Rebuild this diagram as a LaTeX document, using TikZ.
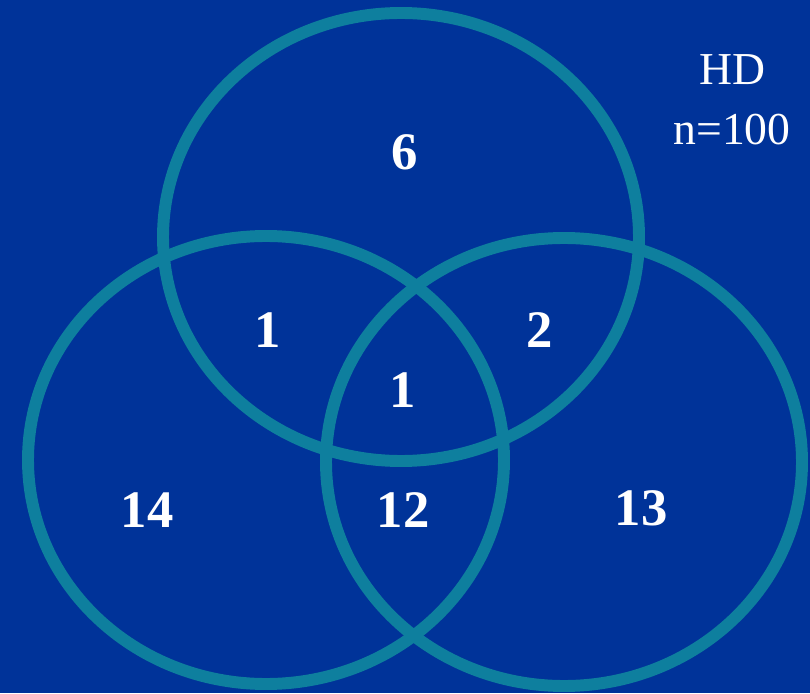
\documentclass[tikz,border=0pt]{standalone}
\usepackage{fontspec}
\setmainfont{Liberation Serif}
\usepackage{tikz}
\definecolor{bgblue}{RGB}{0,51,153}
\definecolor{ringteal}{RGB}{14,127,158}

\begin{document}
\begin{tikzpicture}[x=0.02cm, y=0.02cm,
    ring/.style={draw=ringteal, line width=6.8pt},
    count/.style={text=white, font=\fontsize{30}{36}\selectfont\bfseries},
    tag/.style={text=white, font=\fontsize{26}{30}\selectfont, align=center}]
    % Background
    \fill[bgblue] (0,0) rectangle (810,693);
    \useasboundingbox (0,0) rectangle (810,693);

    % Three sets
    \draw[ring] (401,456) ellipse [x radius=238, y radius=224];
    \draw[ring] (266,233) ellipse [x radius=238, y radius=224];
    \draw[ring] (564,231) ellipse [x radius=238, y radius=224];

    % Counts in each region
    \node[count] (top) at (405,541) {6};
    \node[count] (topleft) at (268,363) {1};
    \node[count] (topright) at (540,363) {2};
    \node[count] (mid) at (403,303) {1};
    \node[count] (left) at (147,183) {14};
    \node[count] (bottom) at (403,183) {12};
    \node[count] (right) at (641,185) {13};

    % Group label
    \node[tag] (hd) at (732,623) {HD};
    \node[tag] (size) at (732,563) {n=100};
\end{tikzpicture}
\end{document}
